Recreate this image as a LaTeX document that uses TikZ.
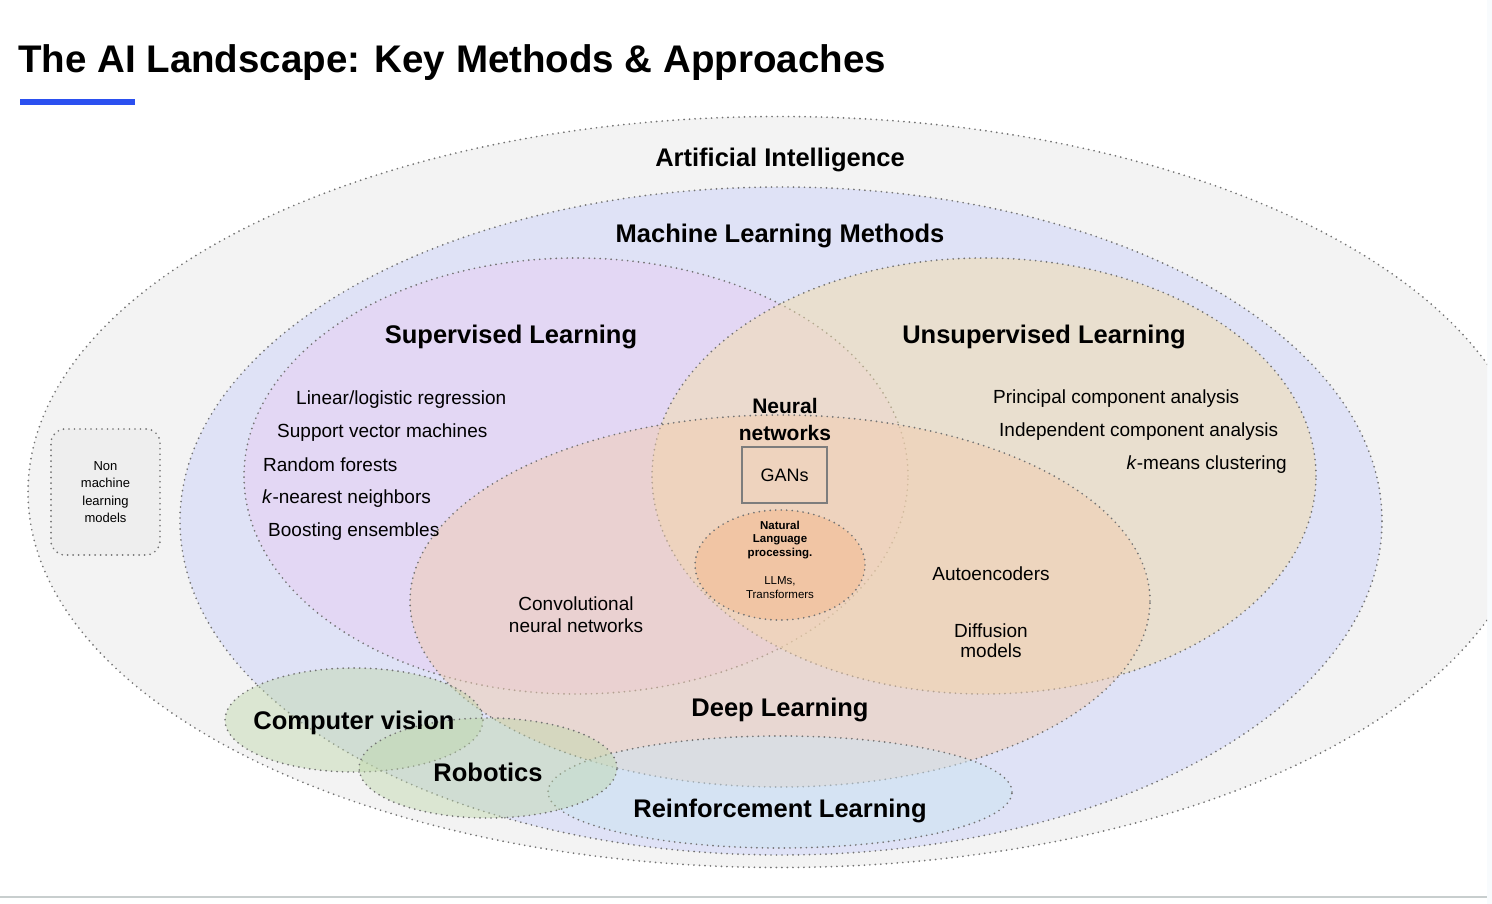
\documentclass[tikz,border=0pt]{standalone}
\usepackage{fontspec}
\setmainfont{Liberation Sans}
\usepackage{tikz}
\usetikzlibrary{shapes.geometric, positioning}
\definecolor{aigray}{RGB}{243,243,243}
\definecolor{mlblue}{RGB}{223,226,246}
\definecolor{suppurple}{RGB}{231,206,244}
\definecolor{unsupbeige}{RGB}{243,222,170}
\definecolor{deeporange}{RGB}{242,205,175}
\definecolor{nlporange}{RGB}{245,185,140}
\definecolor{rlblue}{RGB}{205,228,242}
\definecolor{appgreen}{RGB}{190,215,170}
\definecolor{dotgray}{RGB}{115,115,115}
\definecolor{boxgray}{RGB}{125,125,125}
\definecolor{boxfill}{RGB}{238,238,238}
\definecolor{accent}{RGB}{43,80,240}
\definecolor{linegray}{RGB}{200,206,206}

\begin{document}
\begin{tikzpicture}[
          x=1pt, y=-1pt,
          dots/.style={draw=dotgray, line width=1.9pt, dash pattern=on 0pt off 5.5pt, line cap=round},
          region/.style={ellipse, dots, inner sep=0pt},
          soft/.style={fill opacity=0.5},
          biglabel/.style={font=\bfseries\fontsize{25.5}{28}\selectfont, inner sep=0pt},
          item/.style={font=\fontsize{19}{22}\selectfont, inner sep=0pt, anchor=west},
        ]
        \useasboundingbox (0,0) rectangle (1492,904);
        \fill[white] (0,0) rectangle (1492,904);
        \fill[rlblue!15] (1487,0) rectangle (1492,904);

        % title
        \node[anchor=base west, inner sep=0pt, font=\bfseries\fontsize{38.5}{42}\selectfont] (title) at (18,73)
          {The AI Landscape: Key Methods \& Approaches};
        \fill[accent] (20,99) rectangle (135,105);

        % nested regions
        \begin{scope}
          \clip (0,0) rectangle (1487,904);
          \node[region, fill=aigray, minimum width=1504, minimum height=751] (ai) at (780,492) {};
        \end{scope}
        \node[region, fill=mlblue, minimum width=1202, minimum height=668] (ml) at (781,521) {};
        \node[region, soft, fill=suppurple, minimum width=664, minimum height=436] (sup) at (576,476) {};
        \node[region, soft, fill=unsupbeige, minimum width=664, minimum height=436] (unsup) at (984,476) {};
        \node[region, soft, fill=deeporange, minimum width=740, minimum height=372] (dl) at (780,601) {};
        \node[region, soft, fill=nlporange, minimum width=170, minimum height=110] (nlp) at (780,565) {};
        \node[region, soft, fill=rlblue, minimum width=464, minimum height=112] (rl) at (780,792) {};
        \node[region, fill=appgreen, fill opacity=0.45, minimum width=258, minimum height=104] (cv) at (354,720) {};
        \node[region, fill=appgreen, fill opacity=0.45, minimum width=258, minimum height=100] (rob) at (488,768) {};

        \node[dots, fill=boxfill, rounded corners=14pt, minimum width=109, minimum height=126,
              align=center, font=\fontsize{13}{17.3}\selectfont] (nonml) at (105.5,492)
          {Non\\machine\\learning\\models};

        % region titles
        \node[biglabel] (ailabel)    at (780,160) {Artificial Intelligence};
        \node[biglabel] (mllabel)    at (780,236) {Machine Learning Methods};
        \node[biglabel] (suplabel)   at (511,337) {Supervised Learning};
        \node[biglabel] (unsuplabel) at (1044,337) {Unsupervised Learning};
        \node[biglabel] (dllabel)    at (780,710) {Deep Learning};
        \node[biglabel] (cvlabel)    at (354,723) {Computer vision};
        \node[biglabel] (roblabel)   at (488,772) {Robotics};
        \node[biglabel] (rllabel)    at (780,811) {Reinforcement Learning};

        % supervised methods
        \node[item] (linreg)  at (296,400) {Linear/logistic regression};
        \node[item] (svm)     at (277,433) {Support vector machines};
        \node[item] (forest)  at (263,465) {Random forests};
        \node[item] (knn)     at (262,499) {\textit{k}-nearest neighbors};
        \node[item] (boost)   at (268,532) {Boosting ensembles};

        % unsupervised methods
        \node[item] (pca)     at (993,399) {Principal component analysis};
        \node[item] (ica)     at (999,432) {Independent component analysis};
        \node[item, anchor=east] (kmeans) at (1287,465) {\textit{k}-means clustering};

        % deep learning
        \node[align=center, inner sep=0pt, font=\bfseries\fontsize{21}{27}\selectfont] (nnlabel) at (785,419)
          {Neural\\networks};
        \node[draw=boxgray, line width=2pt, minimum width=85, minimum height=56,
              font=\fontsize{18}{20}\selectfont] (gans) at (784.5,475) {GANs};
        \node[align=center, inner sep=0pt, font=\bfseries\fontsize{11.5}{13.5}\selectfont] (nlptitle) at (780,540)
          {Natural\\Language\\processing.};
        \node[align=center, inner sep=0pt, font=\fontsize{11.5}{14}\selectfont] (nlptext) at (780,588)
          {LLMs,\\Transformers};
        \node[align=center, inner sep=0pt, font=\fontsize{19}{22}\selectfont] (cnn) at (576,615)
          {Convolutional\\neural networks};
        \node[inner sep=0pt, font=\fontsize{19}{22}\selectfont] (autoenc) at (991,574) {Autoencoders};
        \node[align=center, inner sep=0pt, font=\fontsize{19}{20}\selectfont] (diffusion) at (991,641)
          {Diffusion\\models};

        \draw[line width=2pt, linegray] (0,897) -- (1487,897);
      \end{tikzpicture}
\end{document}
